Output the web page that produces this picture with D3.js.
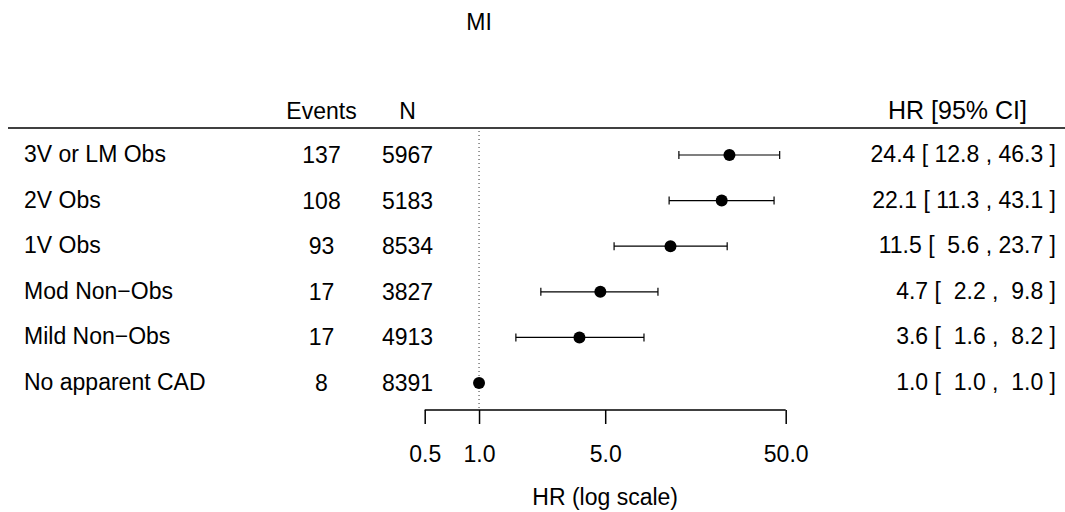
<!DOCTYPE html>
<html>
<head>
<meta charset="utf-8">
<script src="https://cdn.jsdelivr.net/npm/d3@7"></script>
<style>
  html, body { margin: 0; padding: 0; background: #fff; }
  svg text { font-family: "Liberation Sans", Arial, Helvetica, sans-serif; fill: #000; }
</style>
</head>
<body>
<svg id="chart" width="1065" height="512"></svg>
<script>
const title = "MI";
const categories = ["3V or LM Obs", "2V Obs", "1V Obs", "Mod Non\u2212Obs", "Mild Non\u2212Obs", "No apparent CAD"];
const events = [137, 108, 93, 17, 17, 8];
const nTotal = [5967, 5183, 8534, 3827, 4913, 8391];
const hr = [24.4, 22.1, 11.5, 4.7, 3.6, 1.0];
const ciLower = [12.8, 11.3, 5.6, 2.2, 1.6, 1.0];
const ciUpper = [46.3, 43.1, 23.7, 9.8, 8.2, 1.0];
const tickValues = [0.5, 1.0, 5.0, 50.0];
const headers = { events: "Events", n: "N", hr: "HR [95% CI]" };
const axisTitle = "HR (log scale)";

const svg = d3.select("#chart");
const fs = 23;

const x = d3.scaleLog().domain([0.5, 50]).range([424.7, 785.7]);
const y = d3.scalePoint().domain(categories).range([155, 383]);

// title
svg.append("text").attr("x", 479).attr("y", 30).attr("text-anchor", "middle")
  .attr("font-size", fs).text(title);

// headers
svg.append("text").attr("x", 321.5).attr("y", 119).attr("text-anchor", "middle").attr("font-size", fs).text(headers.events);
svg.append("text").attr("x", 407.5).attr("y", 119).attr("text-anchor", "middle").attr("font-size", fs).text(headers.n);
svg.append("text").attr("x", 1027).attr("y", 119).attr("text-anchor", "end").attr("font-size", 25).text(headers.hr);

// header rule
svg.append("line").attr("x1", 8).attr("x2", 1065).attr("y1", 128).attr("y2", 128)
  .attr("stroke", "#000").attr("stroke-width", 1.5);

// reference dotted line at HR = 1
svg.append("line").attr("x1", x(1)).attr("x2", x(1)).attr("y1", 131).attr("y2", 410)
  .attr("stroke", "#333").attr("stroke-width", 1).attr("stroke-dasharray", "1,3");

const fmt = d3.format(".1f");
const rows = svg.append("g").selectAll("g").data(categories).join("g");

rows.append("text").attr("x", 24).attr("y", d => y(d) + 7).attr("font-size", fs).text(d => d);
rows.append("text").attr("x", 321.5).attr("y", d => y(d) + 8).attr("text-anchor", "middle").attr("font-size", fs)
  .text((d, i) => events[i]);
rows.append("text").attr("x", 407.5).attr("y", d => y(d) + 8).attr("text-anchor", "middle").attr("font-size", fs)
  .text((d, i) => nTotal[i]);
rows.append("text").attr("x", 1056).attr("y", d => y(d) + 7).attr("text-anchor", "end").attr("font-size", fs)
  .attr("xml:space", "preserve")
  .text((d, i) => {
    const pad = v => (v < 10 ? " " : "") + fmt(v);
    return `${fmt(hr[i])} [ ${pad(ciLower[i])} , ${pad(ciUpper[i])} ]`;
  });

// CIs
rows.filter((d, i) => ciLower[i] !== ciUpper[i]).each(function(d) {
  const i = categories.indexOf(d);
  const g = d3.select(this);
  const yy = y(d);
  g.append("line").attr("x1", x(ciLower[i])).attr("x2", x(ciUpper[i])).attr("y1", yy).attr("y2", yy)
    .attr("stroke", "#000").attr("stroke-width", 1.2);
  [ciLower[i], ciUpper[i]].forEach(v => {
    g.append("line").attr("x1", x(v)).attr("x2", x(v)).attr("y1", yy - 4).attr("y2", yy + 4)
      .attr("stroke", "#000").attr("stroke-width", 1.2);
  });
});
rows.append("circle").attr("cx", (d, i) => x(hr[i])).attr("cy", d => y(d)).attr("r", 6).attr("fill", "#000");

// axis
const axis = d3.axisBottom(x).tickValues(tickValues).tickFormat(fmt).tickSize(14).tickPadding(22);
const ag = svg.append("g").attr("transform", "translate(0,410)").call(axis);
ag.select(".domain").attr("d", `M${x(0.5)},0H${x(50)}`).attr("stroke", "#000").attr("stroke-width", 1.5);
ag.selectAll(".tick line").attr("stroke", "#000").attr("stroke-width", 1.5);
ag.selectAll(".tick text").attr("font-size", fs).attr("font-family", "Liberation Sans, Arial, sans-serif").attr("fill", "#000");

svg.append("text").attr("x", x(Math.sqrt(0.5 * 50)) ).attr("y", 505).attr("text-anchor", "middle")
  .attr("font-size", fs).text(axisTitle);
</script>
</body>
</html>
